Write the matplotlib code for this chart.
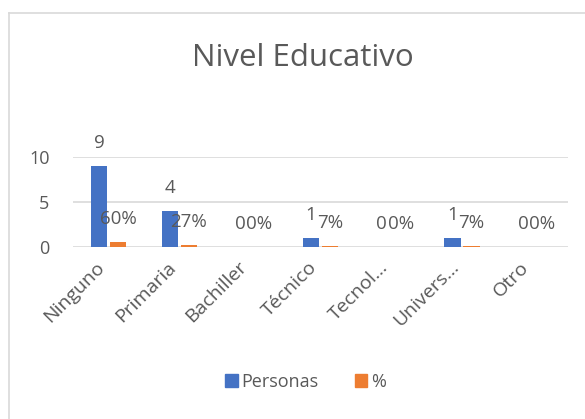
import matplotlib.pyplot as plt
import numpy as np
from matplotlib.lines import Line2D
from matplotlib.patches import Patch

# Data
categories = ["Ninguno", "Primaria", "Bachiller", "Técnico", "Tecnol...", "Univers...", "Otro"]
personas = [9, 4, 0, 1, 0, 1, 0]
porcentaje = [0.60, 0.27, 0.0, 0.07, 0.0, 0.07, 0.0]
pct_labels = ["60%", "27%", "0%", "7%", "0%", "7%", "0%"]

blue = "#4472C4"
orange = "#ED7D31"
text_col = "#595959"
grid_col = "#D9D9D9"

plt.rcParams['font.family'] = ['Open Sans', 'DejaVu Sans']

fig = plt.figure(figsize=(5.85, 4.19), dpi=100)
ax = fig.add_axes([0.125, 0.4105, 0.846, 0.2148])

x = np.arange(len(categories))
w = 0.23
ax.bar(x - w / 2 - 0.02, personas, w, color=blue, zorder=3)
ax.bar(x + w / 2 + 0.02, porcentaje, w, color=orange, zorder=3)

# data labels, centred about 23 px above each bar
for xi, v in zip(x, personas):
    ax.annotate(str(v), (xi - w / 2 - 0.02, v), xytext=(0, 16.5), textcoords="offset points",
                ha="center", va="center", fontsize=13.5, color=text_col, annotation_clip=False)
for xi, v, lab in zip(x, porcentaje, pct_labels):
    ax.annotate(lab, (xi + w / 2 + 0.02, v), xytext=(0, 16.5), textcoords="offset points",
                ha="center", va="center", fontsize=13.5, color=text_col, annotation_clip=False)

ax.set_xlim(-0.5, len(categories) - 0.5)
ax.set_ylim(0, 10)
ax.set_yticks([0, 5, 10])
ax.yaxis.grid(True, color=grid_col, linewidth=1.2, zorder=0)
for s in ax.spines.values():
    s.set_visible(False)
ax.tick_params(length=0, labelsize=13, colors=text_col)
ax.tick_params(axis='y', pad=17)
ax.set_xticks(x)
ax.set_xticklabels(categories, rotation=45, ha="right", va="top", rotation_mode="default",
                   fontsize=14)
ax.tick_params(axis='x', pad=8)

fig.text(0.518, 0.862, "Nivel Educativo", ha="center", va="center", fontsize=22.5, color=text_col)

handles = [Patch(color=blue, label="Personas"), Patch(color=orange, label="%")]
fig.legend(handles=handles, loc="center", bbox_to_anchor=(0.522, 0.088), ncol=2, frameon=False,
           fontsize=13, labelcolor=text_col, handlelength=0.7, handleheight=0.7,
           handletextpad=0.2, columnspacing=2.0)

# chart border (top and left visible)
fig.add_artist(Line2D([9 / 585, 1], [1 - 13 / 419] * 2, color=grid_col, linewidth=1.2))
fig.add_artist(Line2D([9 / 585] * 2, [0, 1 - 13 / 419], color=grid_col, linewidth=1.2))

fig.savefig("out.png", dpi=100)
